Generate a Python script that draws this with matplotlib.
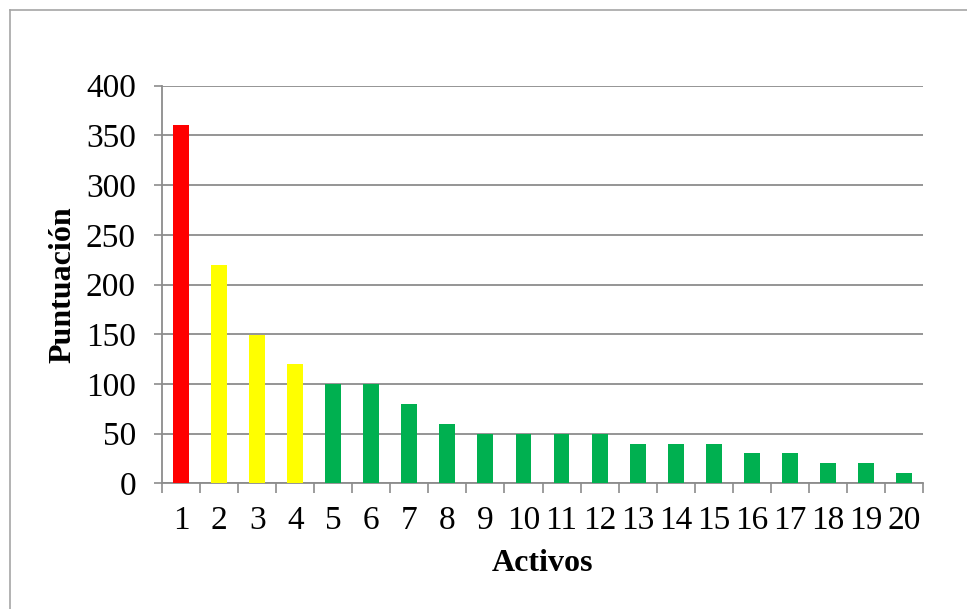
import matplotlib.pyplot as plt
from matplotlib.lines import Line2D

activos = [str(i) for i in range(1, 21)]
puntuacion = [360, 220, 149, 120, 100, 100, 80, 60, 50, 50,
              50, 50, 40, 40, 40, 30, 30, 20, 20, 10]
colores = ['#FF0000'] + ['#FFFF00'] * 3 + ['#00B050'] * 16
y_ticks = [0, 50, 100, 150, 200, 250, 300, 350, 400]

W, H = 967, 609
plt.rcParams['font.family'] = ['Liberation Serif', 'DejaVu Serif']

fig = plt.figure(figsize=(W / 100, H / 100), dpi=100)

# outer frame of the chart area (only left and top edges visible)
fig.add_artist(Line2D([9.5 / W, 9.5 / W], [0, 1 - 9.5 / H], color='#a6a6a6', lw=1.2))
fig.add_artist(Line2D([9.5 / W, 1], [1 - 9.5 / H, 1 - 9.5 / H], color='#a6a6a6', lw=1.2))

ax = fig.add_axes([162.3 / W, 1 - 483.3 / H, 760.4 / W, 397.6 / H])

x = list(range(len(activos)))
ax.bar(x, puntuacion, width=0.42, color=colores, zorder=3)

ax.set_xlim(-0.5, len(activos) - 0.5)
ax.set_ylim(0, 400)
ax.set_yticks(y_ticks)
ax.yaxis.grid(True, color='#8c8c8c', lw=1.3, zorder=0)

ax.set_xticks(x)
ax.set_xticklabels(activos)
ax.set_xticks([i - 0.5 for i in range(len(activos) + 1)], minor=True)
ax.tick_params(axis='x', which='major', length=0, pad=16, labelsize=24)
ax.tick_params(axis='x', which='minor', length=7, width=1.2, color='#8c8c8c')
ax.tick_params(axis='y', length=6, width=1.2, color='#8c8c8c', pad=13, labelsize=24)

for side in ['top', 'right']:
    ax.spines[side].set_visible(False)
for side in ['left', 'bottom']:
    ax.spines[side].set_color('#8c8c8c')
    ax.spines[side].set_linewidth(1.3)

ax.set_xlabel('Activos', fontsize=23, fontweight='bold', labelpad=9)
ax.set_ylabel('Puntuación', fontsize=23, fontweight='bold', labelpad=6)

fig.savefig('out.png', dpi=100)
